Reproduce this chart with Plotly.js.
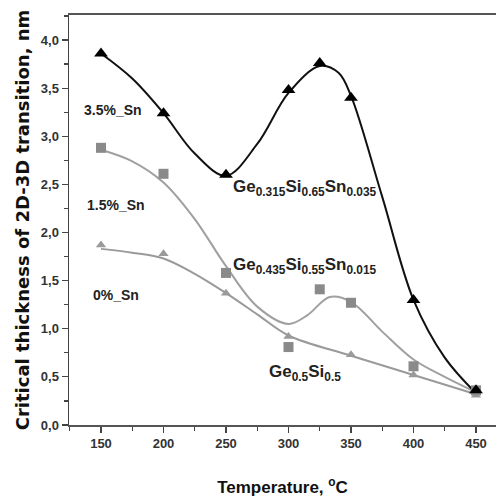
<!DOCTYPE html>
<html>
<head>
<meta charset="utf-8">
<script src="https://cdn.plot.ly/plotly-3.0.1.min.js"></script>
<style>html,body{margin:0;padding:0;background:#fff;}#chart{width:496px;height:497px;}</style>
</head>
<body>
<div id="chart"></div>
<script>
// Measured points
const temps35 = [150, 200, 250, 300, 325, 350, 400, 450];
const sn35 = [3.86, 3.24, 2.60, 3.48, 3.76, 3.40, 1.30, 0.36];
const temps15 = [150, 200, 250, 300, 325, 350, 400, 450];
const sn15 = [2.88, 2.61, 1.58, 0.81, 1.41, 1.27, 0.61, 0.36];
const temps0 = [150, 200, 250, 300, 350, 400, 450];
const sn0 = [1.87, 1.78, 1.37, 0.92, 0.73, 0.52, 0.31];

// Fitted curves
const fitT35 = [150, 175, 200, 225, 250, 275, 300, 325, 340, 350, 375, 400, 425, 450];
const fit35 = [3.86, 3.60, 3.24, 2.82, 2.59, 2.92, 3.45, 3.73, 3.66, 3.42, 2.37, 1.30, 0.70, 0.33];
const fitT15 = [150, 175, 200, 225, 250, 275, 300, 315, 333, 350, 375, 400, 425, 450];
const fit15 = [2.86, 2.74, 2.52, 2.14, 1.65, 1.23, 1.05, 1.14, 1.33, 1.28, 0.97, 0.68, 0.50, 0.34];
const fitT0 = [150, 175, 200, 225, 250, 275, 300, 350, 400, 450];
const fit0 = [1.83, 1.79, 1.73, 1.57, 1.37, 1.15, 0.93, 0.72, 0.52, 0.32];

const xTicks = [150, 200, 250, 300, 350, 400, 450];
const yTicks = [0, 0.5, 1, 1.5, 2, 2.5, 3, 3.5, 4];

const F = 'Arial, "Liberation Sans", sans-serif';
const FW = '"DejaVu Sans", Arial, sans-serif';

const traces = [
  {x: fitT0, y: fit0, mode: 'lines', line: {shape: 'spline', color: '#9a9a9a', width: 2}, hoverinfo: 'skip'},
  {x: fitT15, y: fit15, mode: 'lines', line: {shape: 'spline', color: '#a0a0a0', width: 2}, hoverinfo: 'skip'},
  {x: fitT35, y: fit35, mode: 'lines', line: {shape: 'spline', color: '#111', width: 2}, hoverinfo: 'skip'},
  {x: temps0, y: sn0, mode: 'markers', marker: {symbol: 'triangle-up', size: 9, color: '#9a9a9a'}},
  {x: temps15, y: sn15, mode: 'markers', marker: {symbol: 'square', size: 10, color: '#8a8a8a'}},
  {x: temps35, y: sn35, mode: 'markers', marker: {symbol: 'triangle-up', size: 12, color: '#000'}}
];

const labFont = {family: F, size: 14, color: '#222', weight: 'bold'};
const frmFont = {family: F, size: 17, color: '#222', weight: 'bold'};
const annotations = [
  {text: '3.5%_Sn', x: 134.8, y: 3.27, font: labFont},
  {text: '1.5%_Sn', x: 137.2, y: 2.29, font: labFont},
  {text: '0%_Sn', x: 142, y: 1.35, font: labFont},
  {text: 'Ge<sub>0.315</sub>Si<sub>0.65</sub>Sn<sub>0.035</sub>', x: 254, y: 2.46, font: frmFont},
  {text: 'Ge<sub>0.435</sub>Si<sub>0.55</sub>Sn<sub>0.015</sub>', x: 254, y: 1.65, font: frmFont},
  {text: 'Ge<sub>0.5</sub>Si<sub>0.5</sub>', x: 283, y: 0.54, font: frmFont}
].map(a => Object.assign({xref: 'x', yref: 'y', xanchor: 'left', yanchor: 'middle', showarrow: false}, a));

const layout = {
  width: 496, height: 497,
  margin: {l: 69, r: 0, t: 15, b: 72},
  paper_bgcolor: '#fff', plot_bgcolor: '#fff',
  showlegend: false,
  separators: ',.',
  xaxis: {
    range: [124.4, 466], tickvals: xTicks, ticks: 'outside', ticklen: 6, tickwidth: 1.2, tickcolor: '#444',
    minor: {dtick: 25, tick0: 150, ticks: 'outside', ticklen: 4, tickcolor: '#444'},
    showgrid: false, zeroline: false, showline: true, linecolor: '#555', linewidth: 1.6, mirror: true,
    tickfont: {family: F, size: 13, color: '#333', weight: 'bold'},
    title: {text: 'Temperature, <sup>o</sup>C', font: {family: F, size: 17, color: '#111', weight: 'bold'}, standoff: 32}
  },
  yaxis: {
    range: [0, 4.26], tickvals: yTicks, tickformat: '.1f', ticks: 'outside', ticklen: 6, tickwidth: 1.2, tickcolor: '#444',
    minor: {dtick: 0.25, tick0: 0, ticks: 'outside', ticklen: 4, tickcolor: '#444'},
    showgrid: false, zeroline: false, showline: true, linecolor: '#444', linewidth: 1.5,
    tickfont: {family: F, size: 13, color: '#333', weight: 'bold'},
    title: {text: 'Critical thickness of 2D-3D transition, nm', font: {family: FW, size: 18, color: '#111', weight: 'bold'}, standoff: 6}
  },
  annotations: annotations
};

Plotly.newPlot('chart', traces, layout, {displayModeBar: false, staticPlot: true});
</script>
</body>
</html>
